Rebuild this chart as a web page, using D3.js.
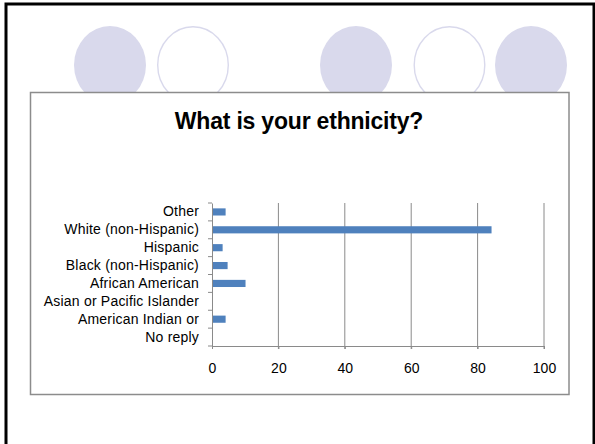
<!DOCTYPE html>
<html>
<head>
<meta charset="utf-8">
<script src="https://cdn.jsdelivr.net/npm/d3@7"></script>
<style>
  html, body { margin: 0; padding: 0; background: #fff; }
  svg { display: block; font-family: "Liberation Sans", Arial, sans-serif; }
</style>
</head>
<body>
<svg id="chart" width="595" height="444"></svg>
<script>
const title = "What is your ethnicity?";
const categories = ["Other", "White (non-Hispanic)", "Hispanic", "Black (non-Hispanic)",
  "African American", "Asian or Pacific Islander", "American Indian or", "No reply"];
const values = [4.1, 84.2, 3.2, 4.7, 10.1, 0, 4.1, 0];
const xTicks = [0, 20, 40, 60, 80, 100];
const decoCircles = [
  { cx: 110, filled: true },
  { cx: 193, filled: false },
  { cx: 356, filled: true },
  { cx: 449.5, filled: false },
  { cx: 531, filled: true }
];

const svg = d3.select("#chart");

// slide frame
svg.append("rect").attr("x", 6).attr("y", 4).attr("width", 588).attr("height", 520)
  .attr("fill", "#fff").attr("stroke", "#000").attr("stroke-width", 3);

// decorative circles
svg.selectAll("ellipse.deco").data(decoCircles).join("ellipse")
  .attr("class", "deco")
  .attr("cx", d => d.cx).attr("cy", 65).attr("rx", d => d.filled ? 36 : 35.3).attr("ry", d => d.filled ? 39 : 38.3)
  .attr("fill", d => d.filled ? "#d9d9ec" : "#fff")
  .attr("stroke", d => d.filled ? "none" : "#d9d9ec")
  .attr("stroke-width", 1.4);

// chart box
svg.append("rect").attr("x", 30.5).attr("y", 92.5).attr("width", 538.5).attr("height", 302)
  .attr("fill", "#fff").attr("stroke", "#8c8c8c").attr("stroke-width", 1.5);

svg.append("text").attr("x", 299).attr("y", 129).attr("text-anchor", "middle")
  .attr("font-size", 23).attr("font-weight", "bold").attr("fill", "#000")
  .attr("letter-spacing", -0.2)
  .text(title);

const x = d3.scaleLinear().domain([0, 100]).range([212, 544]);
const y = d3.scaleBand().domain(categories).range([203, 346]).padding(0);

// gridlines
svg.append("g").selectAll("line").data(xTicks.filter(t => t > 0)).join("line")
  .attr("x1", d => x(d)).attr("x2", d => x(d))
  .attr("y1", 203).attr("y2", 349)
  .attr("stroke", "#8a8a8a").attr("stroke-width", 1);

// bars
const bh = y.bandwidth() * 0.4;
svg.append("g").selectAll("rect").data(categories).join("rect")
  .attr("x", x(0))
  .attr("y", d => y(d) + y.bandwidth() / 2 - bh / 2)
  .attr("width", (d, i) => x(values[i]) - x(0))
  .attr("height", bh)
  .attr("fill", "#4f81bd");

// x axis
const xAxis = svg.append("g").attr("transform", "translate(0,346)")
  .call(d3.axisBottom(x).tickValues(xTicks).tickSize(3).tickPadding(14).tickSizeOuter(0));
xAxis.select(".domain").attr("stroke", "#8a8a8a");
xAxis.selectAll(".tick line").attr("stroke", "#8a8a8a");
xAxis.selectAll(".tick text").attr("font-size", 14).attr("fill", "#000")
  .attr("font-family", "Liberation Sans, Arial, sans-serif");

// y axis
const yAxis = svg.append("g").attr("transform", `translate(${x(0)},0)`)
  .call(d3.axisLeft(y).tickSize(0).tickPadding(13));
yAxis.select(".domain").attr("stroke", "#8a8a8a");
yAxis.selectAll(".tick text").attr("font-size", 14).attr("fill", "#000")
  .attr("letter-spacing", 0.2)
  .attr("font-family", "Liberation Sans, Arial, sans-serif");
// y tick marks at band boundaries
const bounds = categories.map(c => y(c)).concat([y.range()[1]]);
svg.append("g").selectAll("line").data(bounds).join("line")
  .attr("x1", x(0) - 4).attr("x2", x(0))
  .attr("y1", d => d).attr("y2", d => d)
  .attr("stroke", "#8a8a8a");
</script>
</body>
</html>
